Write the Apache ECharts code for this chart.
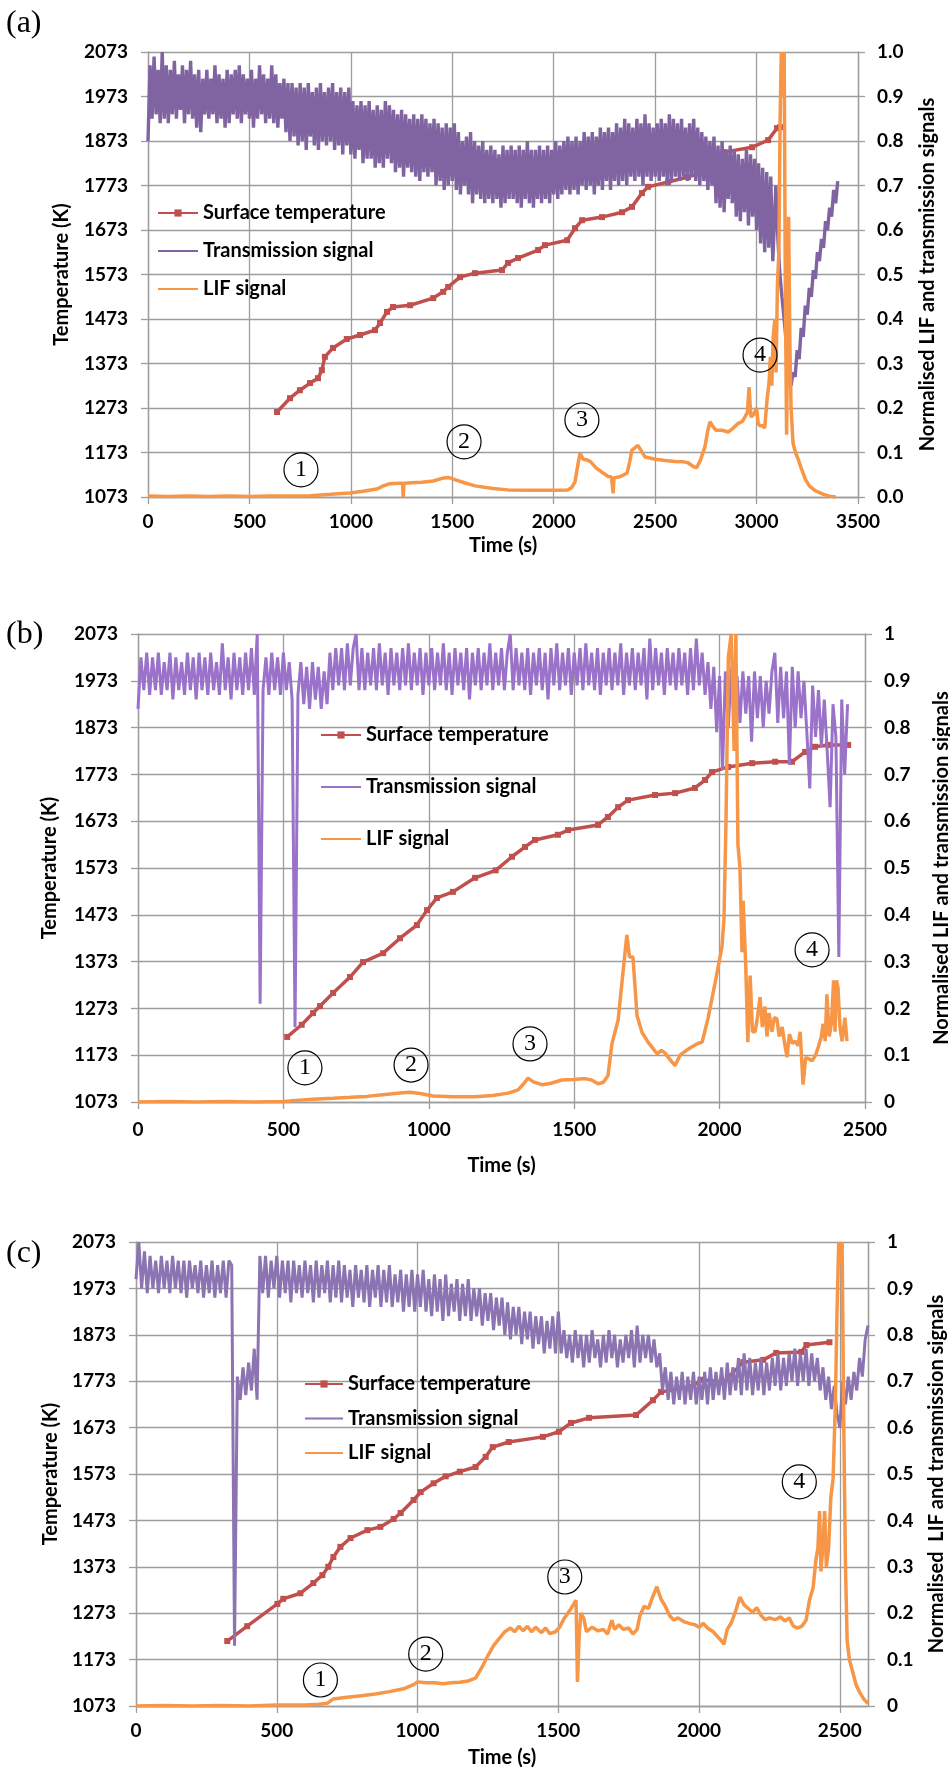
<!DOCTYPE html>
<html><head><meta charset="utf-8">
<script src="https://cdn.jsdelivr.net/npm/echarts@6.0.0/dist/echarts.min.js"></script>
<style>body{margin:0;background:#fff}.p{position:absolute;left:0;width:950px}</style>
</head><body>
<div id="a" class="p" style="top:0;height:590px"></div>
<div id="b" class="p" style="top:590px;height:590px"></div>
<div id="c" class="p" style="top:1180px;height:591px"></div>
<script>
// ---------- tick labels ----------
const tempTicks = [1073,1173,1273,1373,1473,1573,1673,1773,1873,1973,2073];

// ---------- panel (a) ----------
const tempA = [[636,1264],[700,1295],[749,1313],[799,1329],[838,1340],[857,1358],[872,1388],[912,1408],[980,1428],[1045,1437],[1119,1448],[1144,1464],[1178,1489],[1208,1500],[1292,1504],[1406,1520],[1455,1534],[1480,1545],[1538,1567],[1612,1576],[1745,1583],[1775,1599],[1824,1610],[1923,1628],[1957,1639],[2066,1650],[2105,1677],[2140,1695],[2238,1702],[2337,1713],[2386,1725],[2435,1756],[2465,1770],[2564,1781],[2662,1792],[2731,1803],[2760,1812],[2800,1835],[2840,1848],[2978,1859],[3057,1875],[3101,1902],[3116,1904]];
// transmission, sampled every 10 s from t = 0
const transA_dt = 10;
const transA = [
0.80,0.97,0.85,0.99,0.86,0.96,0.84,1.00,0.85,0.97,
0.84,0.96,0.86,0.98,0.85,0.95,0.87,0.97,0.84,0.96,
0.86,0.98,0.85,0.95,0.83,0.96,0.82,0.94,0.86,0.96,
0.85,0.94,0.86,0.97,0.84,0.95,0.85,0.94,0.83,0.96,
0.84,0.95,0.86,0.96,0.85,0.97,0.84,0.95,0.86,0.94,
0.85,0.96,0.83,0.94,0.85,0.97,0.86,0.95,0.84,0.94,
0.85,0.97,0.84,0.95,0.83,0.93,0.85,0.94,0.82,0.93,
0.80,0.93,0.81,0.92,0.79,0.93,0.80,0.92,0.78,0.93,
0.81,0.91,0.79,0.92,0.78,0.93,0.80,0.91,0.79,0.92,
0.80,0.93,0.78,0.91,0.79,0.92,0.77,0.91,0.79,0.92,
0.77,0.89,0.76,0.88,0.78,0.89,0.75,0.88,0.76,0.89,
0.76,0.87,0.74,0.88,0.75,0.87,0.74,0.89,0.76,0.88,
0.75,0.87,0.73,0.86,0.74,0.87,0.72,0.86,0.74,0.85,
0.73,0.86,0.72,0.85,0.71,0.86,0.73,0.85,0.72,0.84,
0.73,0.85,0.70,0.84,0.71,0.83,0.69,0.84,0.70,0.83,
0.71,0.84,0.69,0.82,0.68,0.80,0.70,0.81,0.68,0.82,
0.66,0.80,0.68,0.79,0.67,0.80,0.66,0.78,0.67,0.79,
0.66,0.78,0.67,0.77,0.65,0.79,0.66,0.78,0.67,0.79,
0.67,0.78,0.66,0.79,0.65,0.78,0.67,0.80,0.66,0.78,
0.65,0.78,0.67,0.79,0.66,0.78,0.67,0.79,0.66,0.78,
0.68,0.80,0.67,0.79,0.68,0.80,0.69,0.81,0.68,0.80,
0.69,0.81,0.68,0.80,0.70,0.82,0.69,0.81,0.70,0.82,
0.68,0.81,0.70,0.83,0.69,0.82,0.71,0.83,0.69,0.82,
0.71,0.84,0.70,0.83,0.71,0.85,0.70,0.84,0.72,0.83,
0.71,0.85,0.72,0.84,0.70,0.86,0.72,0.84,0.71,0.83,
0.72,0.84,0.71,0.85,0.72,0.84,0.70,0.86,0.71,0.85,
0.72,0.84,0.71,0.85,0.72,0.83,0.71,0.84,0.72,0.85,
0.71,0.83,0.70,0.82,0.71,0.81,0.69,0.80,0.70,0.81,
0.66,0.79,0.65,0.80,0.64,0.78,0.67,0.79,0.66,0.78,
0.63,0.77,0.62,0.76,0.64,0.78,0.61,0.77,0.63,0.76,
0.60,0.75,0.57,0.74,0.55,0.73,0.56,0.72,0.53];
const transA_tail = [[3095,0.70],[3105,0.58],[3115,0.50],[3125,0.45],[3140,0.38],[3155,0.30],[3170,0.25],[3180,0.28],[3190,0.27],[3200,0.33],[3210,0.31],[3220,0.38],[3230,0.36],[3240,0.43],[3250,0.41],[3260,0.47],[3270,0.45],[3280,0.51],[3290,0.49],[3300,0.55],[3310,0.53],[3320,0.58],[3330,0.56],[3340,0.62],[3350,0.60],[3360,0.65],[3370,0.63],[3380,0.69],[3390,0.66],[3400,0.71]];
const lifA = [[0,0.002],[100,0.001],[200,0.002],[300,0.001],[400,0.002],[500,0.001],[600,0.002],[700,0.002],[800,0.003],[900,0.006],[996,0.009],[1060,0.013],[1128,0.018],[1160,0.025],[1193,0.030],[1242,0.031],[1255,0.031],[1258,0.0],[1262,0.031],[1300,0.032],[1350,0.033],[1406,0.036],[1450,0.042],[1480,0.044],[1520,0.038],[1560,0.032],[1612,0.025],[1700,0.019],[1775,0.016],[1900,0.015],[2000,0.015],[2070,0.016],[2090,0.022],[2105,0.034],[2120,0.075],[2130,0.098],[2145,0.085],[2165,0.083],[2180,0.080],[2210,0.065],[2240,0.055],[2268,0.046],[2285,0.045],[2293,0.008],[2297,0.043],[2330,0.046],[2362,0.054],[2375,0.080],[2385,0.105],[2415,0.116],[2450,0.090],[2500,0.085],[2550,0.082],[2598,0.080],[2640,0.079],[2662,0.077],[2690,0.068],[2705,0.066],[2725,0.085],[2745,0.112],[2760,0.150],[2770,0.169],[2785,0.158],[2800,0.150],[2830,0.150],[2860,0.146],[2885,0.155],[2908,0.165],[2930,0.170],[2943,0.180],[2955,0.190],[2963,0.247],[2972,0.18],[2985,0.185],[3000,0.200],[3008,0.165],[3017,0.160],[3030,0.16],[3040,0.155],[3052,0.220],[3062,0.26],[3068,0.315],[3075,0.25],[3082,0.36],[3090,0.40],[3096,0.28],[3103,0.48],[3110,0.55],[3116,0.85],[3122,1.0],[3130,0.9],[3136,1.0],[3142,0.45],[3148,0.14],[3154,0.40],[3158,0.63],[3164,0.35],[3170,0.20],[3180,0.12],[3192,0.10],[3205,0.085],[3220,0.065],[3240,0.04],[3260,0.025],[3290,0.014],[3330,0.006],[3360,0.002],[3390,0.0]];
const annA = [[754,0.061,'1'],[1558,0.124,'2'],[2139,0.173,'3'],[3017,0.319,'4']];

// ---------- panel (b) ----------
const tempB = [[513,1212],[563,1238],[602,1263],[626,1278],[671,1306],[729,1340],[774,1372],[843,1391],[901,1423],[959,1451],[994,1483],[1028,1509],[1083,1522],[1159,1552],[1230,1568],[1286,1597],[1331,1618],[1365,1633],[1444,1644],[1479,1654],[1582,1665],[1616,1682],[1651,1703],[1685,1718],[1778,1729],[1847,1733],[1915,1744],[1950,1761],[1974,1778],[2029,1789],[2112,1797],[2191,1800],[2249,1800],[2294,1821],[2328,1832],[2373,1836],[2442,1836]];
// transmission, sampled every 10 s from t = 0
const transB_dt = 10;
const transB = [
0.84,0.95,0.88,0.96,0.87,0.95,0.88,0.96,0.87,0.94,
0.88,0.96,0.86,0.95,0.88,0.94,0.87,0.96,0.88,0.95,
0.86,0.96,0.88,0.95,0.87,0.96,0.88,0.94,0.87,0.98,
0.88,0.95,0.86,0.96,0.88,0.95,0.87,0.96,0.88,0.97,
0.87,1.00,0.21,0.88,0.95,0.87,0.96,0.88,0.95,0.87,
0.96,0.88,0.94,0.86,0.16,0.87,0.94,0.85,0.93,0.84,
0.94,0.86,0.93,0.84,0.92,0.85,0.96,0.88,0.97,0.89,
0.97,0.88,0.98,0.89,0.97,1.00,0.88,0.97,0.88,0.96,
0.89,0.97,0.88,0.98,0.89,0.96,0.87,0.97,0.89,0.96,
0.88,0.97,0.89,0.98,0.88,0.96,0.89,0.97,0.87,0.96,
0.89,0.97,0.88,0.96,0.89,0.98,0.88,0.96,0.87,0.97,
0.89,0.96,0.88,0.97,0.86,0.96,0.89,0.97,0.88,0.96,
0.89,0.98,0.88,0.96,0.89,0.97,0.88,0.96,1.00,0.88,
0.97,0.89,0.96,0.88,0.97,0.87,0.96,0.89,0.97,0.88,
0.96,0.86,0.97,0.89,0.98,0.88,0.96,0.89,0.97,0.87,
0.96,0.89,0.97,0.88,0.98,0.89,0.96,0.88,0.97,0.87,
0.96,0.89,0.97,0.88,0.96,0.89,0.98,0.87,0.96,0.89,
0.97,0.88,0.96,0.89,0.97,0.86,0.99,0.88,0.97,0.89,
0.96,0.87,0.97,0.89,0.96,0.88,0.97,0.89,0.96,0.87,
0.97,0.88,0.99,0.89,0.96,0.87,0.94,0.84,0.93,0.79,
0.91,0.71,0.92,0.80,0.93,0.82,0.91,0.81,0.92,0.83,
0.91,0.77,0.92,0.82,0.91,0.80,0.90,0.83,0.92,0.96,
0.81,0.93,0.82,0.92,0.72,0.93,0.80,0.92,0.82,0.90,
0.79,0.67,0.89,0.78,0.88,0.76,0.86,0.75,0.63,0.85,
0.78,0.31,0.86,0.70,0.85];
const lifB = [[0,0],[100,0.001],[200,0.0],[300,0.001],[400,0.0],[500,0.001],[520,0.002],[557,0.004],[600,0.006],[671,0.008],[730,0.010],[787,0.012],[850,0.016],[901,0.019],[935,0.021],[970,0.018],[1015,0.013],[1080,0.011],[1159,0.011],[1220,0.014],[1273,0.019],[1307,0.026],[1325,0.038],[1341,0.051],[1360,0.043],[1389,0.037],[1420,0.040],[1458,0.047],[1500,0.048],[1537,0.050],[1560,0.047],[1582,0.039],[1600,0.042],[1616,0.056],[1630,0.125],[1651,0.175],[1664,0.254],[1681,0.357],[1690,0.31],[1702,0.31],[1716,0.185],[1733,0.149],[1754,0.128],[1770,0.115],[1785,0.103],[1800,0.110],[1812,0.105],[1830,0.090],[1847,0.078],[1864,0.100],[1885,0.110],[1905,0.118],[1925,0.125],[1940,0.128],[1960,0.178],[1984,0.253],[2008,0.331],[2015,0.39],[2022,0.60],[2030,0.95],[2040,1.0],[2050,0.75],[2056,1.0],[2063,0.55],[2070,0.50],[2077,0.32],[2081,0.43],[2090,0.29],[2097,0.128],[2105,0.27],[2113,0.15],[2122,0.15],[2130,0.18],[2139,0.224],[2147,0.16],[2156,0.204],[2163,0.14],[2170,0.19],[2180,0.15],[2188,0.18],[2197,0.178],[2205,0.14],[2215,0.16],[2225,0.12],[2232,0.096],[2240,0.145],[2250,0.125],[2260,0.13],[2270,0.12],[2277,0.15],[2287,0.037],[2296,0.095],[2308,0.092],[2318,0.088],[2330,0.10],[2339,0.117],[2350,0.14],[2356,0.167],[2363,0.13],[2369,0.23],[2377,0.14],[2385,0.17],[2392,0.26],[2397,0.15],[2402,0.26],[2407,0.245],[2414,0.16],[2421,0.13],[2431,0.18],[2438,0.13]];
const annB = [[574,0.073,'1'],[939,0.079,'2'],[1348,0.124,'3'],[2318,0.325,'4']];

// ---------- panel (c) ----------
const tempC = [[324,1213],[395,1245],[502,1293],[523,1304],[584,1316],[630,1338],[662,1355],[683,1373],[701,1394],[726,1416],[762,1435],[822,1452],[868,1459],[915,1476],[940,1489],[986,1517],[1011,1534],[1057,1553],[1100,1568],[1150,1578],[1206,1588],[1242,1610],[1267,1631],[1324,1642],[1445,1653],[1502,1664],[1545,1683],[1609,1694],[1776,1700],[1836,1732],[1865,1750],[1965,1760],[2014,1776],[2086,1771],[2157,1814],[2228,1819],[2274,1834],[2363,1836],[2381,1851],[2463,1857]];
// transmission, sampled every 10 s from t = 0
const transC_dt = 10;
const transC = [
0.92,1.00,0.90,0.98,0.89,0.97,0.90,0.96,0.89,0.97,
0.90,0.96,0.89,0.97,0.90,0.96,0.89,0.96,0.88,0.96,
0.90,0.95,0.89,0.96,0.88,0.95,0.89,0.96,0.88,0.95,
0.89,0.96,0.88,0.96,0.95,0.13,0.71,0.66,0.73,0.67,
0.74,0.68,0.77,0.66,0.97,0.89,0.97,0.88,0.96,0.90,
0.97,0.88,0.96,0.89,0.96,0.87,0.96,0.89,0.95,0.88,
0.96,0.89,0.95,0.87,0.96,0.88,0.95,0.89,0.96,0.87,
0.95,0.88,0.96,0.87,0.95,0.88,0.94,0.86,0.95,0.88,
0.94,0.87,0.95,0.86,0.94,0.88,0.95,0.86,0.94,0.87,
0.95,0.86,0.93,0.87,0.94,0.85,0.93,0.86,0.94,0.85,
0.93,0.86,0.94,0.85,0.92,0.84,0.93,0.85,0.92,0.83,
0.93,0.84,0.91,0.85,0.92,0.83,0.91,0.84,0.92,0.83,
0.90,0.84,0.90,0.82,0.89,0.83,0.89,0.81,0.88,0.82,
0.88,0.80,0.87,0.79,0.86,0.80,0.86,0.78,0.85,0.79,
0.85,0.77,0.84,0.78,0.84,0.76,0.83,0.77,0.84,0.76,
0.85,0.76,0.81,0.75,0.80,0.74,0.81,0.75,0.80,0.73,
0.80,0.74,0.81,0.75,0.79,0.73,0.80,0.74,0.81,0.75,
0.80,0.73,0.79,0.74,0.80,0.75,0.81,0.73,0.82,0.74,
0.80,0.75,0.80,0.74,0.79,0.73,0.76,0.68,0.73,0.66,
0.72,0.65,0.71,0.66,0.72,0.65,0.71,0.66,0.72,0.65,
0.71,0.66,0.72,0.65,0.73,0.66,0.72,0.67,0.73,0.66,
0.74,0.67,0.73,0.68,0.75,0.67,0.76,0.68,0.75,0.67,
0.74,0.68,0.75,0.67,0.74,0.68,0.75,0.69,0.76,0.68,
0.75,0.69,0.76,0.70,0.77,0.69,0.76,0.70,0.77,0.69,
0.76,0.70,0.75,0.68,0.73,0.66,0.71,0.64,0.69,0.63,
0.60,0.70,0.65,0.71,0.66,0.72,0.68,0.75,0.71,0.79,
0.82];
const lifC = [[0,0],[100,0.001],[200,0],[300,0.001],[400,0],[500,0.002],[600,0.002],[650,0.004],[680,0.006],[700,0.015],[750,0.019],[800,0.022],[850,0.026],[900,0.031],[950,0.037],[986,0.046],[1000,0.052],[1030,0.050],[1060,0.050],[1090,0.048],[1120,0.050],[1150,0.051],[1180,0.054],[1206,0.060],[1230,0.085],[1253,0.112],[1270,0.130],[1290,0.145],[1310,0.160],[1330,0.168],[1345,0.160],[1360,0.172],[1375,0.162],[1390,0.172],[1405,0.160],[1420,0.170],[1440,0.158],[1455,0.168],[1470,0.156],[1490,0.160],[1505,0.170],[1520,0.188],[1540,0.205],[1555,0.220],[1563,0.228],[1568,0.052],[1574,0.150],[1580,0.200],[1590,0.190],[1600,0.160],[1620,0.170],[1640,0.162],[1660,0.165],[1675,0.155],[1690,0.185],[1700,0.165],[1715,0.175],[1730,0.165],[1750,0.168],[1765,0.155],[1780,0.165],[1790,0.195],[1805,0.215],[1820,0.210],[1835,0.235],[1850,0.257],[1865,0.230],[1880,0.215],[1895,0.195],[1910,0.185],[1925,0.190],[1945,0.182],[1965,0.178],[1985,0.175],[2000,0.170],[2015,0.178],[2030,0.168],[2050,0.160],[2065,0.150],[2080,0.140],[2088,0.133],[2100,0.165],[2115,0.180],[2130,0.205],[2145,0.235],[2160,0.218],[2175,0.210],[2190,0.202],[2205,0.212],[2220,0.195],[2235,0.186],[2250,0.190],[2270,0.186],[2290,0.192],[2305,0.183],[2320,0.190],[2335,0.172],[2350,0.168],[2365,0.172],[2380,0.185],[2392,0.228],[2405,0.255],[2415,0.315],[2422,0.340],[2428,0.42],[2433,0.29],[2440,0.35],[2446,0.42],[2452,0.30],[2460,0.34],[2468,0.45],[2476,0.49],[2484,0.65],[2490,0.85],[2496,1.0],[2502,0.95],[2508,1.0],[2514,0.60],[2520,0.30],[2526,0.14],[2534,0.10],[2545,0.075],[2558,0.045],[2570,0.03],[2585,0.015],[2600,0.005]];
const annC = [[655,0.056,'1'],[1029,0.112,'2'],[1523,0.278,'3'],[2356,0.483,'4']];

// ---------- helpers ----------
function stepped(dt, vals) { return vals.map((v, i) => [i * dt, v]); }

const GRIDC = '#9d9d9d';
const FONT = 'Lato, "Open Sans", "DejaVu Sans", sans-serif';
const SERIF = '"Liberation Serif", "DejaVu Serif", serif';
const TXT = {fontFamily: FONT, fontWeight: 'bold', color: '#000'};
const LS = {lineStyle: {color: GRIDC, width: 1.3}};
const plain = v => String(v);

function panel(id, c) {
  const ch = echarts.init(document.getElementById(id), null, {renderer: 'canvas'});
  ch.setOption({
    animation: false,
    backgroundColor: '#fff',
    title: {text: c.label, left: 6, top: c.labelTop, padding: 0,
      textStyle: {fontFamily: SERIF, fontSize: 32, fontWeight: 'normal', color: '#000'}},
    grid: {left: c.grid[0], top: c.grid[1], width: c.grid[2], height: c.grid[3], containLabel: false, outerBoundsMode: 'none'},
    legend: {orient: 'vertical', left: c.legend[0], top: c.legend[1], itemGap: c.legend[2], itemWidth: c.legend[3], itemHeight: 9,
      padding: 0, selectedMode: false, textStyle: Object.assign({fontSize: 20}, TXT),
      data: ['Surface temperature', {name: 'Transmission signal', itemStyle: {opacity: 0}}, {name: 'LIF signal', itemStyle: {opacity: 0}}]},
    xAxis: {type: 'value', min: 0, max: c.xmax, interval: 500, name: 'Time (s)', nameLocation: 'middle', nameGap: c.xGap,
      nameTextStyle: Object.assign({fontSize: 20}, TXT),
      axisLine: Object.assign({show: true}, LS), axisTick: Object.assign({show: true, length: 7}, LS),
      axisLabel: Object.assign({margin: c.xMargin, fontSize: 19, formatter: plain, showMaxLabel: c.xmax % 500 === 0}, TXT),
      splitLine: Object.assign({show: true}, LS)},
    yAxis: [
      {type: 'value', min: 1073, max: 2073, interval: 100, position: 'left', name: 'Temperature (K)', nameLocation: 'middle', nameGap: c.lGap,
        nameTextStyle: Object.assign({fontSize: 20}, TXT),
        axisLine: Object.assign({show: true}, LS), axisTick: Object.assign({show: true, length: 7, customValues: tempTicks}, LS),
        axisLabel: Object.assign({margin: 20, fontSize: 19, formatter: plain, customValues: tempTicks}, TXT), splitLine: {show: false}},
      {type: 'value', min: 0, max: 1, interval: 0.1, position: 'right', name: c.rName, nameLocation: 'middle', nameGap: c.rGap, nameRotate: 90,
        nameTextStyle: Object.assign({fontSize: 20}, TXT),
        axisLine: Object.assign({show: true}, LS), axisTick: Object.assign({show: true, length: 7}, LS),
        axisLabel: Object.assign({margin: 19, fontSize: 19, formatter: c.rFmt}, TXT),
        splitLine: Object.assign({show: true}, LS)}
    ],
    series: [
      {name: 'Surface temperature', type: 'line', yAxisIndex: 0, data: c.temp, symbol: 'rect', symbolSize: 6, showAllSymbol: true,
        lineStyle: {color: '#C0504D', width: 3.5}, itemStyle: {color: '#C0504D'}, z: 2, silent: true},
      {name: 'Transmission signal', type: 'line', yAxisIndex: 1, data: c.trans, symbol: 'none', sampling: null,
        lineStyle: {color: c.transColor, width: c.transWidth}, itemStyle: {color: c.transColor}, z: 3, silent: true},
      {name: 'LIF signal', type: 'line', yAxisIndex: 1, data: c.lif, symbol: 'none',
        lineStyle: {color: '#F79646', width: 3.5}, itemStyle: {color: '#F79646'}, z: 4, silent: true,
        markPoint: {silent: true, symbol: 'circle', symbolSize: 34,
          itemStyle: {color: 'rgba(255,255,255,0)', borderColor: '#000', borderWidth: 1.2},
          label: {show: true, position: 'inside', formatter: '{b}', fontFamily: SERIF, fontSize: 24, color: '#000'},
          data: c.ann.map(a => ({coord: [a[0], a[1]], name: a[2]}))}}
    ]
  });
}

panel('a', {label: '(a)', labelTop: 8, grid: [148, 52, 710, 445], legend: [157, 203, 18, 40], xmax: 3500, xGap: 39, xMargin: 15, lGap: 76, rGap: 60,
  rName: 'Normalised LIF and transmission signals', rFmt: v => v.toFixed(1),
  transColor: '#8064A2', transWidth: 3.4,
  temp: tempA, trans: stepped(transA_dt, transA).concat(transA_tail), lif: lifA, ann: annA});
panel('b', {label: '(b)', labelTop: 29, grid: [138, 44, 727, 468], legend: [320, 135, 32, 40], xmax: 2500, xGap: 54, xMargin: 18, lGap: 78, rGap: 67,
  rName: 'Normalised LIF and transmission signals', rFmt: null,
  transColor: '#9B72C9', transWidth: 3,
  temp: tempB, trans: stepped(transB_dt, transB), lif: lifB, ann: annB});
panel('c', {label: '(c)', labelTop: 58, grid: [136, 62, 732, 464], legend: [304, 194, 14.5, 38], xmax: 2600, xGap: 42, xMargin: 15, lGap: 68, rGap: 59,
  rName: 'Normalised  LIF and transmission signals', rFmt: null,
  transColor: '#8B74B1', transWidth: 3,
  temp: tempC, trans: stepped(transC_dt, transC), lif: lifC, ann: annC});
</script></body></html>
